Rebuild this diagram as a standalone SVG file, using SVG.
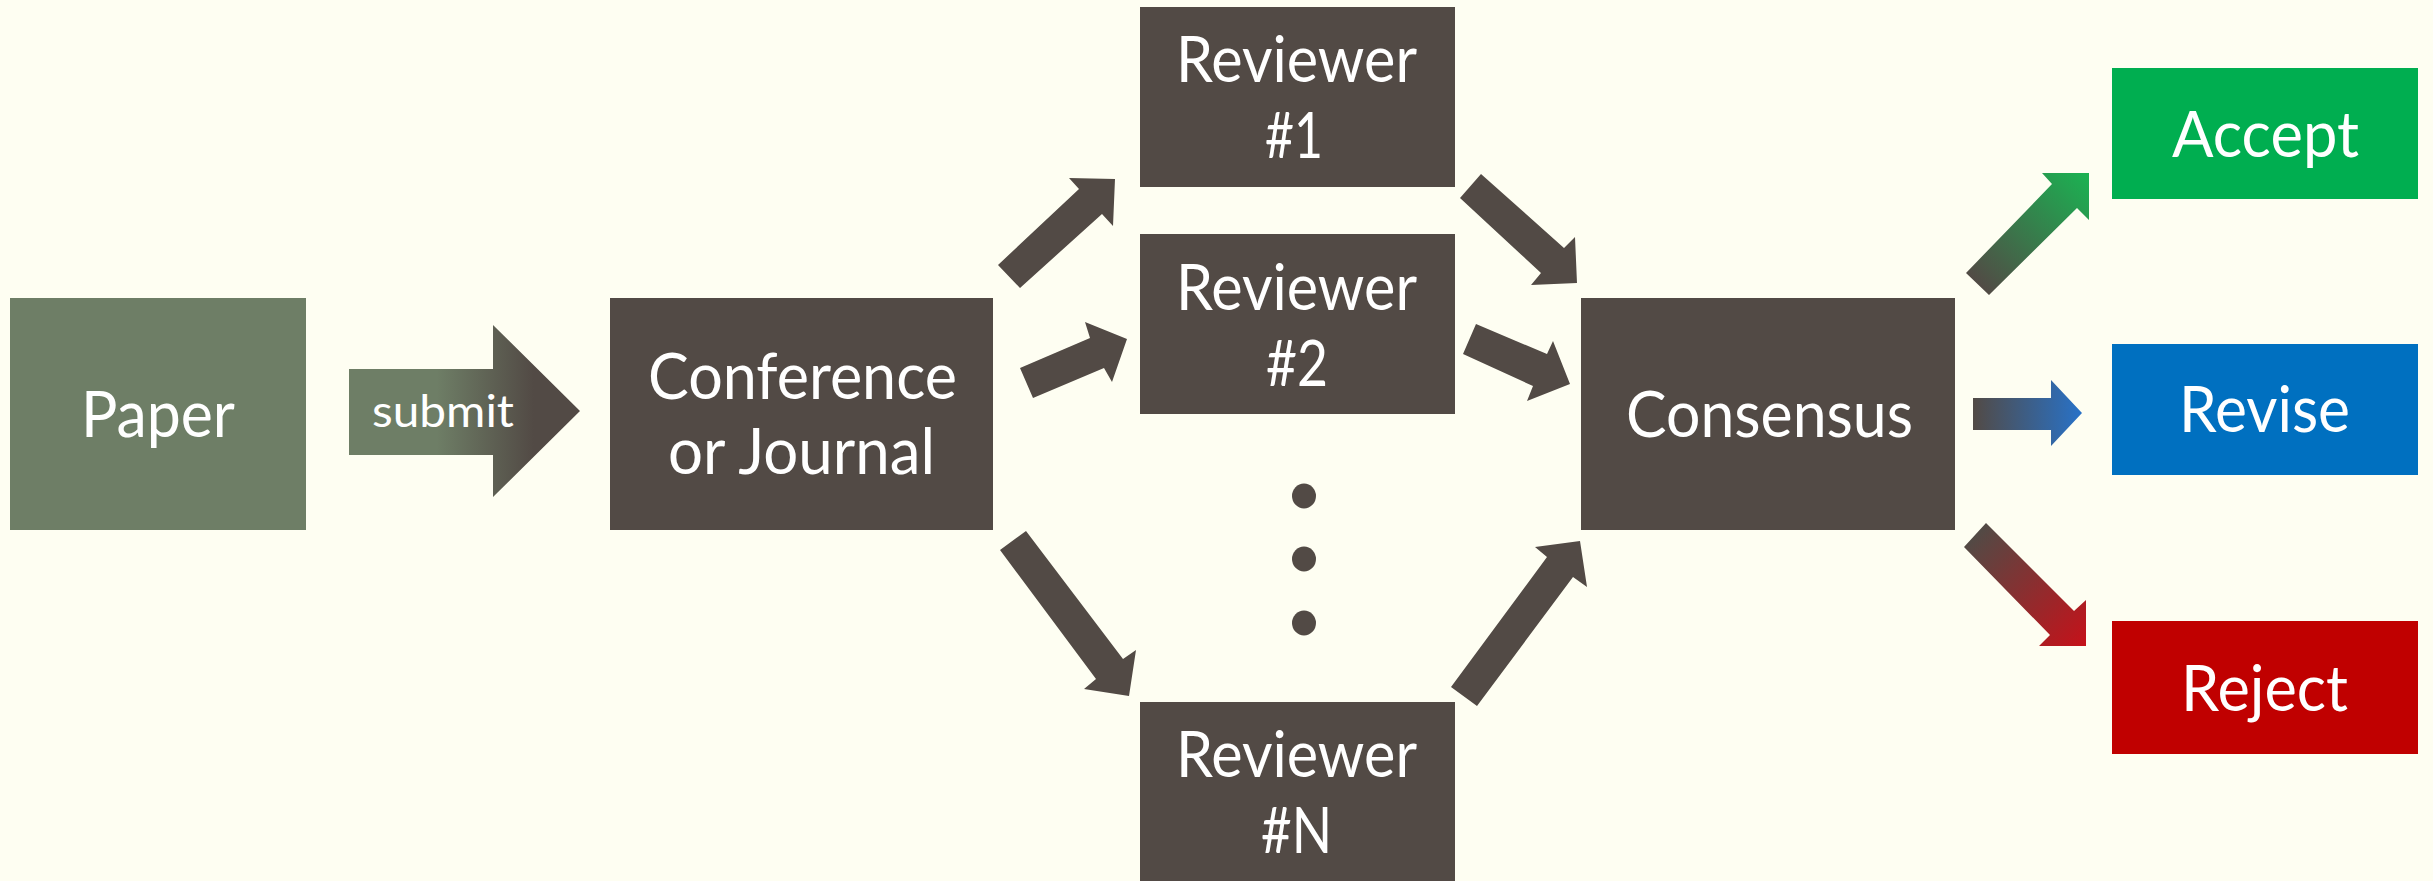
<svg xmlns="http://www.w3.org/2000/svg" width="2433" height="881" viewBox="0 0 2433 881">
<style>
.bg{fill:#fefef2}
.dark{fill:#524a45}
.t{font-family:Lato,"Open Sans","Liberation Sans",sans-serif;font-size:63px;fill:#ffffff}
.ts{font-family:Lato,"Open Sans","Liberation Sans",sans-serif;font-size:44px;fill:#ffffff}
</style>
<defs>
<linearGradient id="gSubmit" gradientUnits="userSpaceOnUse" x1="349" y1="0" x2="580" y2="0">
<stop offset="0" stop-color="#6e7e66"/>
<stop offset="0.38" stop-color="#6e7e66"/>
<stop offset="0.8" stop-color="#524a45"/>
<stop offset="1" stop-color="#524a45"/>
</linearGradient>
<linearGradient id="gAccept" gradientUnits="userSpaceOnUse" x1="1977" y1="285" x2="2085" y2="175">
<stop offset="0" stop-color="#524a45"/>
<stop offset="1" stop-color="#1cb052"/>
</linearGradient>
<linearGradient id="gRevise" gradientUnits="userSpaceOnUse" x1="1973" y1="0" x2="2082" y2="0">
<stop offset="0" stop-color="#524a45"/>
<stop offset="1" stop-color="#2872c8"/>
</linearGradient>
<linearGradient id="gReject" gradientUnits="userSpaceOnUse" x1="1975" y1="535" x2="2084" y2="645">
<stop offset="0" stop-color="#524a45"/>
<stop offset="1" stop-color="#c4121a"/>
</linearGradient>
</defs>
<rect class="bg" x="0" y="0" width="2433" height="881"/>

<g id="connectors">
<polygon id="submit-arrow" fill="url(#gSubmit)" points="349,369 493,369 493,325 580,411 493,497 493,455 349,455"/>
<text class="ts" x="372" y="427" textLength="142" lengthAdjust="spacingAndGlyphs">submit</text>
<polygon class="dark" points="998,265 1079,189 1069,178 1115,179 1113,226 1102,214 1020,288"/>
<polygon class="dark" points="1020,368 1090,338 1085,322 1127,339 1112,382 1104,368 1033,398"/>
<polygon class="dark" points="1026,531 1123,659 1136,650 1129,696 1084,689 1096,679 1000,550"/>
<polygon class="dark" points="1481,174 1564,248 1575,237 1577,283 1531,285 1541,273 1460,198"/>
<polygon class="dark" points="1476,324 1547,354 1553,341 1570,384 1527,401 1533,386 1463,354"/>
<polygon class="dark" points="1451,687 1547,557 1535,547 1580,541 1587,587 1573,577 1477,706"/>
<polygon fill="url(#gAccept)" points="1966,273 2052,184 2042,173 2089,173 2089,220 2077,208 1989,295"/>
<polygon fill="url(#gRevise)" points="1973,398 2051,398 2051,380 2082,413 2051,446 2051,430 1973,430"/>
<polygon fill="url(#gReject)" points="1986,523 2074,611 2086,600 2086,646 2039,646 2050,635 1964,547"/>
</g>

<g id="paper">
<rect x="10" y="298" width="296" height="232" fill="#6e7e66"/>
<text class="t" x="81" y="436.5" textLength="154" lengthAdjust="spacingAndGlyphs">Paper</text>
</g>

<g id="venue">
<rect class="dark" x="610" y="298" width="383" height="232"/>
<text class="t" x="648" y="398.5" textLength="309" lengthAdjust="spacingAndGlyphs">Conference</text>
<text class="t" x="668" y="474" textLength="267" lengthAdjust="spacingAndGlyphs">or Journal</text>
</g>

<g id="reviewer1">
<rect class="dark" x="1140" y="7" width="315" height="180"/>
<text class="t" x="1176" y="81.5" textLength="241" lengthAdjust="spacingAndGlyphs">Reviewer</text>
<text class="t" x="1265" y="158" textLength="58" lengthAdjust="spacingAndGlyphs">#1</text>
</g>

<g id="reviewer2">
<rect class="dark" x="1140" y="234" width="315" height="180"/>
<text class="t" x="1176" y="309.5" textLength="241" lengthAdjust="spacingAndGlyphs">Reviewer</text>
<text class="t" x="1266" y="385.5" textLength="62" lengthAdjust="spacingAndGlyphs">#2</text>
</g>

<g id="ellipsis">
<ellipse class="dark" cx="1304" cy="496" rx="12" ry="12.5"/>
<ellipse class="dark" cx="1304" cy="559" rx="12" ry="12.5"/>
<ellipse class="dark" cx="1304" cy="623" rx="12" ry="12.5"/>
</g>

<g id="reviewerN">
<rect class="dark" x="1140" y="702" width="315" height="179"/>
<text class="t" x="1176" y="777" textLength="241" lengthAdjust="spacingAndGlyphs">Reviewer</text>
<text class="t" x="1261" y="853" textLength="71" lengthAdjust="spacingAndGlyphs">#N</text>
</g>

<g id="consensus">
<rect class="dark" x="1581" y="298" width="374" height="232"/>
<text class="t" x="1626" y="436.5" textLength="287" lengthAdjust="spacingAndGlyphs">Consensus</text>
</g>

<g id="accept">
<rect x="2112" y="68" width="306" height="131" fill="#00ae50"/>
<text class="t" x="2172" y="157" textLength="187" lengthAdjust="spacingAndGlyphs">Accept</text>
</g>

<g id="revise">
<rect x="2112" y="344" width="306" height="131" fill="#0070c0"/>
<text class="t" x="2179" y="432" textLength="171" lengthAdjust="spacingAndGlyphs">Revise</text>
</g>

<g id="reject">
<rect x="2112" y="621" width="306" height="133" fill="#c00000"/>
<text class="t" x="2181" y="710.5" textLength="167" lengthAdjust="spacingAndGlyphs">Reject</text>
</g>
</svg>
